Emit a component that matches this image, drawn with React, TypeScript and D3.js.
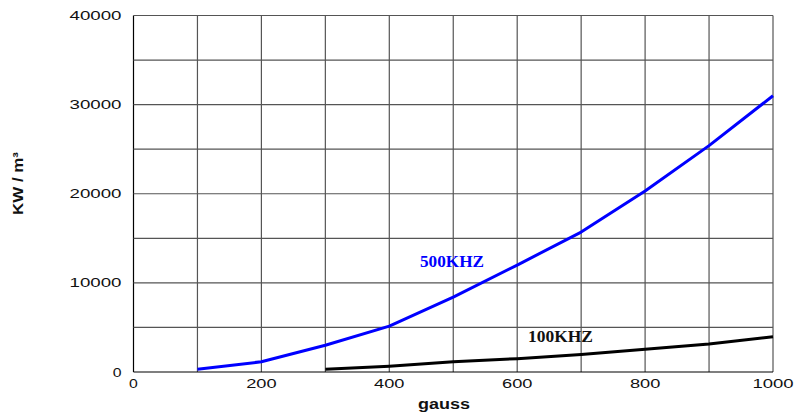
import React from "react";
import * as d3 from "d3";

const gaussTicks = [0, 200, 400, 600, 800, 1000];
const powerTicks = [0, 10000, 20000, 30000, 40000];
const gridX = [0, 100, 200, 300, 400, 500, 600, 700, 800, 900, 1000];
const gridY = [0, 5000, 10000, 15000, 20000, 25000, 30000, 35000, 40000];

const gauss500 = [100, 200, 300, 400, 500, 600, 700, 800, 900, 1000];
const kw500 = [300, 1150, 3000, 5150, 8400, 12000, 15700, 20300, 25400, 31000];
const gauss100 = [300, 400, 500, 600, 700, 800, 900, 1000];
const kw100 = [300, 650, 1150, 1500, 1950, 2550, 3150, 3950];

const W = 795;
const H = 413;
const L = 133.5, R = 773, T = 15.5, B = 372;

export default function App() {
  const x = d3.scaleLinear().domain([0, 1000]).range([L, R]);
  const y = d3.scaleLinear().domain([0, 40000]).range([B, T]);
  const line = d3.line<[number, number]>().x((d) => x(d[0])).y((d) => y(d[1]));
  const s500 = gauss500.map((g, i) => [g, kw500[i]] as [number, number]);
  const s100 = gauss100.map((g, i) => [g, kw100[i]] as [number, number]);
  const tickW = (s: string) => s.length * 10.8 - 2;
  return (
    <svg width={W} height={H} style={{ position: "absolute", left: 0, top: 0, background: "#fff" }}>
      <rect width={W} height={H} fill="#fff" />
      {gridX.map((g) => (
        <line key={"gx" + g} x1={x(g)} x2={x(g)} y1={T} y2={B} stroke={g === 0 ? "#000" : "#555"} strokeWidth={1.2} />
      ))}
      {gridY.map((g) => (
        <line key={"gy" + g} x1={L} x2={R} y1={y(g)} y2={y(g)} stroke={g === 0 ? "#000" : "#555"} strokeWidth={1.2} />
      ))}
      {powerTicks.map((t) => (
        <text key={"yt" + t} x={121.5} y={y(t) + 4.5} textAnchor="end" fontFamily="Liberation Sans, Arial, sans-serif" fontSize={12} fill="#111" textLength={tickW(String(t))} lengthAdjust="spacingAndGlyphs">
          {t}
        </text>
      ))}
      {gaussTicks.map((t) => (
        <text key={"xt" + t} x={x(t)} y={388} textAnchor="middle" fontFamily="Liberation Sans, Arial, sans-serif" fontSize={12} fill="#111" textLength={tickW(String(t))} lengthAdjust="spacingAndGlyphs">
          {t}
        </text>
      ))}
      <path d={line(s500) ?? ""} fill="none" stroke="#0000ff" strokeWidth={3} strokeLinejoin="round" />
      <path d={line(s100) ?? ""} fill="none" stroke="#000" strokeWidth={3} strokeLinejoin="round" />
      <text x={420} y={267} fontFamily="Liberation Serif, Times New Roman, serif" fontWeight="bold" fontSize={16.5} fill="#0000ff" textLength={64} lengthAdjust="spacingAndGlyphs">500KHZ</text>
      <text x={528} y={341.5} fontFamily="Liberation Serif, Times New Roman, serif" fontWeight="bold" fontSize={16.5} fill="#111" textLength={65} lengthAdjust="spacingAndGlyphs">100KHZ</text>
      <text x={444} y={408.5} textAnchor="middle" fontFamily="Liberation Sans, Arial, sans-serif" fontWeight="bold" fontSize={14.5} fill="#111" textLength={52} lengthAdjust="spacingAndGlyphs">gauss</text>
      <text transform="translate(22.5,183.5) rotate(-90)" textAnchor="middle" fontFamily="Liberation Sans, Arial, sans-serif" fontWeight="bold" fontSize={14.5} fill="#111" textLength={63} lengthAdjust="spacingAndGlyphs">
        KW / m³
      </text>
    </svg>
  );
}
